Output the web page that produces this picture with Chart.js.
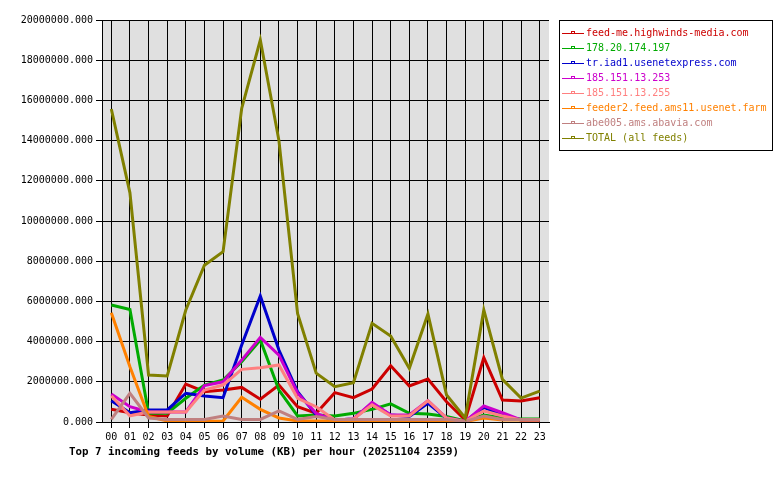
<!DOCTYPE html>
<html>
<head>
<meta charset="utf-8">
<script src="https://cdn.jsdelivr.net/npm/chart.js@4"></script>
<style>
  body { margin: 0; background: #fff; }
  canvas { display: block; }
</style>
</head>
<body>
<canvas id="feedChart" width="780" height="480"></canvas>
<script>
// Hourly volume (KB) per feed
const hours = ['00','01','02','03','04','05','06','07','08','09','10','11',
               '12','13','14','15','16','17','18','19','20','21','22','23'];

const feedMe = [630000, 460000, 350000, 300000, 1890000, 1510000, 1590000, 1720000, 1130000, 1840000, 760000, 430000,
                1460000, 1210000, 1640000, 2800000, 1790000, 2140000, 1010000, 100000, 3200000, 1090000, 1040000, 1210000];
const ip178 = [5820000, 5600000, 430000, 430000, 1180000, 1840000, 2090000, 3000000, 4080000, 1590000, 300000, 350000,
               300000, 430000, 630000, 900000, 430000, 400000, 270000, 50000, 350000, 200000, 150000, 150000];
const trIad1 = [1060000, 460000, 600000, 600000, 1430000, 1290000, 1210000, 3830000, 6270000, 3580000, 1510000, 350000,
                100000, 150000, 930000, 350000, 270000, 930000, 200000, 30000, 730000, 350000, 100000, 100000];
const ip253 = [1390000, 760000, 500000, 500000, 500000, 1810000, 2000000, 3080000, 4210000, 3330000, 1430000, 430000,
               100000, 150000, 980000, 350000, 350000, 1060000, 200000, 30000, 800000, 460000, 100000, 100000];
const ip255 = [1300000, 310000, 500000, 500000, 500000, 1590000, 1840000, 2620000, 2700000, 2840000, 1180000, 760000,
               100000, 150000, 850000, 300000, 300000, 1060000, 200000, 30000, 550000, 300000, 100000, 100000];
const feeder2 = [5440000, 2750000, 270000, 50000, 20000, 20000, 50000, 1230000, 630000, 200000, 50000, 50000,
                 50000, 50000, 50000, 50000, 50000, 50000, 50000, 20000, 200000, 100000, 100000, 100000];
const abe005 = [130000, 1430000, 200000, 130000, 130000, 130000, 300000, 130000, 130000, 550000, 130000, 270000,
                130000, 130000, 130000, 130000, 130000, 130000, 130000, 30000, 300000, 130000, 130000, 130000];
const total = [15570000, 11400000, 2340000, 2290000, 5570000, 7800000, 8470000, 15600000, 19000000, 14000000, 5400000, 2430000,
               1760000, 1960000, 4910000, 4280000, 2670000, 5370000, 1340000, 200000, 5570000, 2120000, 1190000, 1540000];

const feedNames = ['feed-me.highwinds-media.com', '178.20.174.197', 'tr.iad1.usenetexpress.com',
                   '185.151.13.253', '185.151.13.255', 'feeder2.feed.ams11.usenet.farm',
                   'abe005.ams.abavia.com', 'TOTAL (all feeds)'];
const feedSeries = [feedMe, ip178, trIad1, ip253, ip255, feeder2, abe005, total];
const feedColors = ['#cc0000', '#00aa00', '#0000cc', '#cc00cc', '#ff8080', '#ff8000', '#c08080', '#808000'];

const MONO = '"DejaVu Sans Mono", "Liberation Mono", monospace';

// grey plot background
const plotBackground = {
  id: 'plotBackground',
  beforeDraw(chart) {
    const { ctx, chartArea: a } = chart;
    ctx.save();
    ctx.fillStyle = '#e0e0e0';
    ctx.fillRect(a.left, a.top, a.right - a.left, a.bottom - a.top);
    ctx.restore();
  }
};

// boxed legend on the right + title under the axis
const sideLegend = {
  id: 'sideLegend',
  afterDraw(chart) {
    const ctx = chart.ctx;
    ctx.save();
    ctx.fillStyle = '#fff';
    ctx.fillRect(559, 20, 213, 130);
    ctx.strokeStyle = '#000';
    ctx.lineWidth = 1;
    ctx.strokeRect(559.5, 20.5, 213, 130);
    ctx.font = '10px ' + MONO;
    ctx.textBaseline = 'middle';
    ctx.textAlign = 'left';
    feedNames.forEach((name, i) => {
      const y = 33.5 + i * 15;
      ctx.strokeStyle = feedColors[i];
      ctx.beginPath();
      ctx.moveTo(562, y);
      ctx.lineTo(584, y);
      ctx.stroke();
      ctx.strokeRect(571.5, y - 2, 3, 2);
      ctx.fillStyle = feedColors[i];
      ctx.fillText(name, 586, y);
    });
    ctx.fillStyle = '#000';
    ctx.font = 'bold 10.8px ' + MONO;
    ctx.fillText('Top 7 incoming feeds by volume (KB) per hour (20251104 2359)', 69, 452);
    ctx.restore();
  }
};

new Chart(document.getElementById('feedChart'), {
  type: 'line',
  data: {
    labels: hours,
    datasets: feedNames.map((name, i) => ({
      label: name,
      data: feedSeries[i],
      borderColor: feedColors[i],
      backgroundColor: feedColors[i],
      borderWidth: 3,
      pointRadius: 0,
      tension: 0,
      fill: false,
      order: feedNames.length - i
    }))
  },
  options: {
    responsive: false,
    animation: false,
    layout: { padding: { top: 20, right: 231, bottom: 38, left: 0 } },
    plugins: {
      legend: { display: false },
      title: { display: false },
      tooltip: { enabled: false }
    },
    scales: {
      x: {
        offset: true,
        grid: { color: '#000', lineWidth: 1, tickLength: 6, tickColor: '#000' },
        border: { color: '#000' },
        ticks: { color: '#000', font: { family: MONO, size: 10 }, padding: 3, maxRotation: 0, autoSkip: false },
        afterFit(scale) { scale.height = 20; }
      },
      y: {
        min: 0,
        max: 20000000,
        grid: { color: '#000', lineWidth: 1, tickLength: 6, tickColor: '#000' },
        border: { color: '#000' },
        ticks: {
          stepSize: 2000000,
          color: '#000',
          font: { family: MONO, size: 10 },
          padding: 3,
          callback: v => Number(v).toFixed(3)
        },
        afterFit(scale) { scale.width = 102; }
      }
    }
  },
  plugins: [plotBackground, sideLegend]
});
</script>
</body>
</html>
